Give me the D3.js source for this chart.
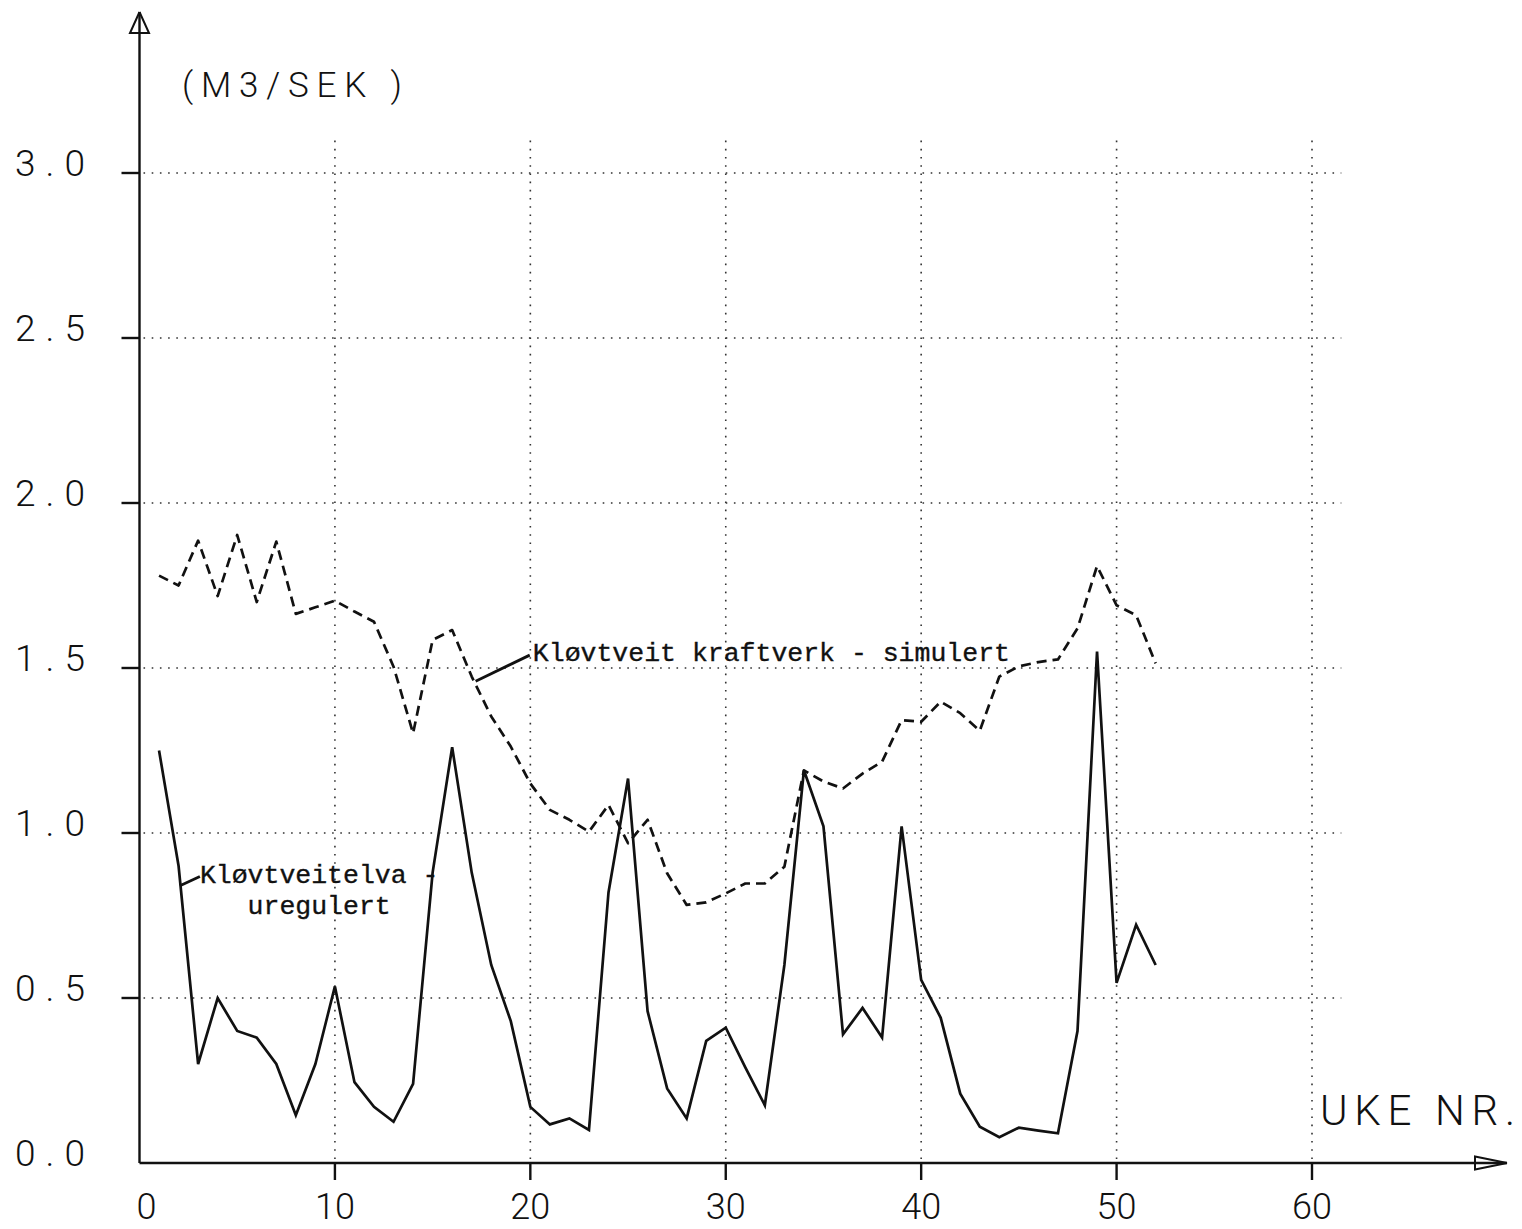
<!DOCTYPE html>
<html>
<head>
<meta charset="utf-8">
<script src="https://cdn.jsdelivr.net/npm/d3@7"></script>
<style>
  body { margin: 0; background: #fff; }
  svg { display: block; }
  .plotter { font-family: "Roboto", "DejaVu Sans", sans-serif; font-weight: 300; fill: #111; }
  .typewriter { font-family: "Courier New", "Liberation Mono", monospace; fill: #111; stroke: #111; stroke-width: 0.35; }
</style>
</head>
<body>
<svg id="chart" width="1522" height="1229"></svg>
<script>
// Weekly flow, week 1..52 (m3/s)
const weeks = d3.range(1, 53);

// Kløvtveitelva – unregulated river flow
const uregulert = [
  1.25, 0.90, 0.30, 0.50, 0.40, 0.38, 0.30, 0.145, 0.30, 0.535,
  0.245, 0.17, 0.125, 0.24, 0.88, 1.26, 0.88, 0.60, 0.43, 0.17,
  0.117, 0.135, 0.10, 0.82, 1.165, 0.46, 0.226, 0.135, 0.37, 0.41,
  0.29, 0.175, 0.60, 1.19, 1.02, 0.39, 0.47, 0.38, 1.02, 0.555,
  0.44, 0.21, 0.11, 0.078, 0.107, 0.098, 0.09, 0.40, 1.55, 0.546,
  0.722, 0.60
];

// Kløvtveit kraftverk – simulated plant flow
const simulert = [
  1.78, 1.75, 1.886, 1.718, 1.903, 1.70, 1.883, 1.664, 1.684, 1.704,
  1.671, 1.64, 1.504, 1.302, 1.585, 1.615, 1.474, 1.353, 1.262, 1.15,
  1.07, 1.04, 1.004, 1.085, 0.969, 1.04, 0.878, 0.782, 0.79, 0.817,
  0.847, 0.847, 0.898, 1.19, 1.156, 1.135, 1.18, 1.216, 1.342, 1.337,
  1.398, 1.363, 1.31, 1.474, 1.505, 1.518, 1.526, 1.62, 1.809, 1.69,
  1.66, 1.514
];

const yTickValues = [0, 0.5, 1.0, 1.5, 2.0, 2.5, 3.0];
const yTickLabels = ["0.0", "0.5", "1.0", "1.5", "2.0", "2.5", "3.0"];
const xTickValues = [0, 10, 20, 30, 40, 50, 60];
const xTickLabels = ["0", "10", "20", "30", "40", "50", "60"];

const yUnitLabel = "(M3/SEK )";
const xUnitLabel = "UKE NR.";

const svg = d3.select("#chart");

const x = d3.scaleLinear().domain([0, 60]).range([139.5, 1312]);
const y = d3.scaleLinear().domain([0, 3]).range([1163, 173]);

const ink = "#111";

// --- dotted grid ---
const grid = svg.append("g")
  .attr("stroke", "#333")
  .attr("stroke-width", 1.6)
  .attr("stroke-dasharray", "1.6 6.6")
  .attr("fill", "none");

grid.selectAll("line.h")
  .data(yTickValues.filter(v => v > 0))
  .join("line")
  .attr("class", "h")
  .attr("x1", x(0) + 4).attr("x2", x(61.5))
  .attr("y1", d => y(d)).attr("y2", d => y(d));

grid.selectAll("line.v")
  .data(xTickValues.filter(v => v > 0))
  .join("line")
  .attr("class", "v")
  .attr("x1", d => x(d)).attr("x2", d => x(d))
  .attr("y1", y(0) - 4).attr("y2", y(3.11));

// --- axes ---
const axes = svg.append("g").attr("stroke", ink).attr("stroke-width", 2.4).attr("fill", "none");

// vertical axis with open arrow head
axes.append("line").attr("x1", x(0)).attr("x2", x(0)).attr("y1", y(0)).attr("y2", 12);
axes.append("path")
  .attr("stroke-width", 2)
  .attr("d", d3.line()([[x(0), 12], [x(0) - 9.5, 33], [x(0) + 9.5, 33], [x(0), 12]]));

// horizontal axis with open arrow head
axes.append("line").attr("x1", x(0)).attr("x2", 1507).attr("y1", y(0)).attr("y2", y(0));
axes.append("path")
  .attr("stroke-width", 2)
  .attr("d", d3.line()([[1507, y(0)], [1475, y(0) - 6.5], [1475, y(0) + 6.5], [1507, y(0)]]));

// y ticks
axes.selectAll("line.yt")
  .data(yTickValues.filter(v => v > 0))
  .join("line")
  .attr("class", "yt")
  .attr("x1", x(0) - 18).attr("x2", x(0))
  .attr("y1", d => y(d)).attr("y2", d => y(d));

// x ticks
axes.selectAll("line.xt")
  .data(xTickValues.filter(v => v > 0))
  .join("line")
  .attr("class", "xt")
  .attr("x1", d => x(d)).attr("x2", d => x(d))
  .attr("y1", y(0)).attr("y2", y(0) + 17);

// --- tick labels (plotter lettering) ---
svg.append("g").selectAll("text")
  .data(yTickValues)
  .join("text")
  .attr("class", "plotter")
  .attr("x", 15)
  .attr("y", d => y(d) + 3)
  .attr("font-size", 37)
  .attr("textLength", 70)
  .attr("lengthAdjust", "spacing")
  .text((d, i) => yTickLabels[i]);

svg.append("g").selectAll("text")
  .data(xTickValues)
  .join("text")
  .attr("class", "plotter")
  .attr("x", d => d === 0 ? x(d) + 7 : x(d))
  .attr("y", 1219)
  .attr("font-size", 36)
  .attr("text-anchor", "middle")
  .text((d, i) => xTickLabels[i]);

svg.append("text")
  .attr("class", "plotter")
  .attr("x", 182).attr("y", 97)
  .attr("font-size", 35)
  .attr("textLength", 220)
  .attr("lengthAdjust", "spacing")
  .text(yUnitLabel);

svg.append("text")
  .attr("class", "plotter")
  .attr("x", 1320).attr("y", 1125)
  .attr("font-size", 42)
  .attr("textLength", 195)
  .attr("lengthAdjust", "spacing")
  .text(xUnitLabel);

// --- series ---
const line = d3.line().x(d => x(d[0])).y(d => y(d[1]));

svg.append("path")
  .datum(weeks.map((w, i) => [w, simulert[i]]))
  .attr("fill", "none")
  .attr("stroke", ink)
  .attr("stroke-width", 2.7)
  .attr("stroke-dasharray", "10 6")
  .attr("stroke-linejoin", "round")
  .attr("d", line);

svg.append("path")
  .datum(weeks.map((w, i) => [w, uregulert[i]]))
  .attr("fill", "none")
  .attr("stroke", ink)
  .attr("stroke-width", 2.7)
  .attr("stroke-linejoin", "miter")
  .attr("d", line);

// --- annotations (typewriter lettering with leader lines) ---
const notes = [
  { lines: ["Kløvtveit kraftverk - simulert"], at: [20.13, 1.521], tip: [17.2, 1.46], end: [19.97, 1.539] },
  { lines: ["Kløvtveitelva -", "   uregulert"], at: [3.09, 0.8485], tip: [2.07, 0.840], end: [3.09, 0.868] }
];

notes.forEach(n => {
  svg.append("line")
    .attr("x1", x(n.tip[0])).attr("y1", y(n.tip[1]))
    .attr("x2", x(n.end[0])).attr("y2", y(n.end[1]))
    .attr("stroke", ink).attr("stroke-width", 2.8);
  const t = svg.append("text")
    .attr("class", "typewriter")
    .attr("x", x(n.at[0]))
    .attr("y", y(n.at[1]))
    .attr("font-size", 26.5)
    .attr("xml:space", "preserve")
    .style("white-space", "pre");
  n.lines.forEach((s, i) => {
    t.append("tspan")
      .attr("x", x(n.at[0]))
      .attr("dy", i === 0 ? 0 : 31)
      .text(s);
  });
});
</script>
</body>
</html>
